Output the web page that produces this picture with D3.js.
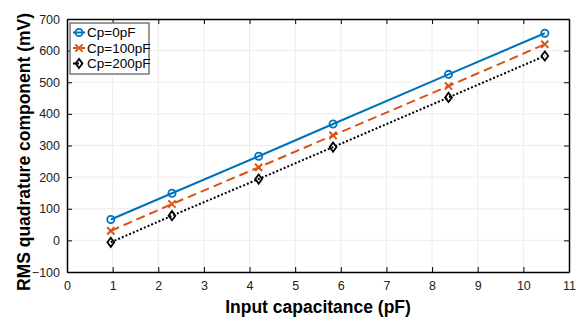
<!DOCTYPE html>
<html>
<head>
<meta charset="utf-8">
<script src="https://cdn.jsdelivr.net/npm/d3@7"></script>
<style>
  body { margin: 0; background: #fff; }
  svg { display: block; font-family: "Liberation Sans", Arial, sans-serif; }
</style>
</head>
<body>
<div id="chart"></div>
<script>
// input capacitance (pF)
const inputCap = [0.96, 2.30, 4.20, 5.83, 8.36, 10.47];
// RMS quadrature component (mV) per parasitic capacitance
const cp0 = [66, 149, 266, 368, 525, 655];
const cp100 = [30, 115, 231, 332, 488, 620];
const cp200 = [-6, 78, 194, 295, 452, 583];
const seriesNames = ["Cp=0pF", "Cp=100pF", "Cp=200pF"];
const xTicks = [0, 1, 2, 3, 4, 5, 6, 7, 8, 9, 10, 11];
const yTicks = [-100, 0, 100, 200, 300, 400, 500, 600, 700];

const width = 584, height = 322;
const margin = { top: 19, right: 15, bottom: 50, left: 67 };

const svg = d3.select("#chart").append("svg")
  .attr("width", width)
  .attr("height", height);

const x = d3.scaleLinear().domain([0, 11]).range([margin.left, width - margin.right]);
const y = d3.scaleLinear().domain([-100, 700]).range([height - margin.bottom, margin.top]);

const x0 = x.range()[0], x1 = x.range()[1];
const y0 = y.range()[0], y1 = y.range()[1];

// grid
svg.append("g").selectAll("line").data(xTicks.slice(1, -1)).join("line")
  .attr("x1", d => x(d)).attr("x2", d => x(d))
  .attr("y1", y1).attr("y2", y0)
  .attr("stroke", "#ececec").attr("stroke-width", 1);
svg.append("g").selectAll("line").data(yTicks.slice(1, -1)).join("line")
  .attr("y1", d => y(d)).attr("y2", d => y(d))
  .attr("x1", x0).attr("x2", x1)
  .attr("stroke", "#ececec").attr("stroke-width", 1);

// axes (ticks inward, box)
const tick = 5;
const xAxis = svg.append("g")
  .attr("transform", `translate(0,${y0})`)
  .call(d3.axisBottom(x).tickValues(xTicks).tickSizeInner(-tick).tickSizeOuter(0).tickPadding(9));
const xAxisTop = svg.append("g")
  .attr("transform", `translate(0,${y1})`)
  .call(d3.axisTop(x).tickValues(xTicks).tickSizeInner(-tick).tickSizeOuter(0).tickFormat(""));
const yAxis = svg.append("g")
  .attr("transform", `translate(${x0},0)`)
  .call(d3.axisLeft(y).tickValues(yTicks).tickSizeInner(-tick).tickSizeOuter(0).tickPadding(7));
const yAxisRight = svg.append("g")
  .attr("transform", `translate(${x1},0)`)
  .call(d3.axisRight(y).tickValues(yTicks).tickSizeInner(-tick).tickSizeOuter(0).tickFormat(""));

[xAxis, xAxisTop, yAxis, yAxisRight].forEach(g => {
  g.select(".domain").attr("stroke", "#000").attr("stroke-width", 1.5);
  g.selectAll(".tick line").attr("stroke", "#000").attr("stroke-width", 1);
  g.selectAll("text").attr("font-size", 12.5).attr("fill", "#222")
    .attr("font-family", "'Liberation Sans', Arial, sans-serif");
});

// series
const series = [
  { name: seriesNames[0], values: cp0, color: "#0072BD", dash: null, marker: "circle" },
  { name: seriesNames[1], values: cp100, color: "#D95319", dash: "9,5", marker: "cross" },
  { name: seriesNames[2], values: cp200, color: "#000000", dash: "2,2", marker: "diamond" }
];

const line = d3.line().x(d => x(d[0])).y(d => y(d[1]));

function drawMarker(g, type, cx, cy, color) {
  if (type === "circle") {
    g.append("circle").attr("cx", cx).attr("cy", cy).attr("r", 3.6)
      .attr("fill", "none").attr("stroke", color).attr("stroke-width", 1.8);
  } else if (type === "cross") {
    const s = 3.6;
    g.append("path")
      .attr("d", `M${cx - s},${cy - s}L${cx + s},${cy + s}M${cx - s},${cy + s}L${cx + s},${cy - s}`)
      .attr("stroke", color).attr("stroke-width", 2).attr("fill", "none");
  } else {
    const w = 3.4, h = 4.6;
    g.append("path")
      .attr("d", `M${cx},${cy - h}L${cx + w},${cy}L${cx},${cy + h}L${cx - w},${cy}Z`)
      .attr("stroke", color).attr("stroke-width", 1.8).attr("fill", "none");
  }
}

series.forEach(s => {
  const pts = inputCap.map((c, i) => [c, s.values[i]]);
  svg.append("path").datum(pts)
    .attr("d", line)
    .attr("fill", "none")
    .attr("stroke", s.color)
    .attr("stroke-width", 2)
    .attr("stroke-dasharray", s.dash);
  const mg = svg.append("g");
  pts.forEach(p => drawMarker(mg, s.marker, x(p[0]), y(p[1]), s.color));
});

// legend
const legend = svg.append("g").attr("transform", "translate(70,23)");
legend.append("rect").attr("width", 79).attr("height", 51)
  .attr("fill", "#fff").attr("stroke", "#6e6e6e").attr("stroke-width", 1.4);
series.forEach((s, i) => {
  const ly = 9.5 + i * 15.5;
  legend.append("line").attr("x1", 3).attr("x2", 15).attr("y1", ly).attr("y2", ly)
    .attr("stroke", s.color).attr("stroke-width", 2)
    .attr("stroke-dasharray", s.dash === "2,2" ? "2,2" : (s.dash ? "4,4" : null));
  drawMarker(legend, s.marker, 9, ly, s.color);
  legend.append("text").attr("x", 17).attr("y", ly + 4.5)
    .attr("font-size", 13.5).attr("fill", "#000").text(s.name);
});

// axis titles
svg.append("text")
  .attr("x", (x0 + x1) / 2).attr("y", 313)
  .attr("text-anchor", "middle")
  .attr("font-size", 17.5).attr("font-weight", "bold")
  .text("Input capacitance (pF)");
svg.append("text")
  .attr("transform", `translate(30,152) rotate(-90)`)
  .attr("text-anchor", "middle")
  .attr("font-size", 17.5).attr("font-weight", "bold")
  .text("RMS quadrature component (mV)");
</script>
</body>
</html>
